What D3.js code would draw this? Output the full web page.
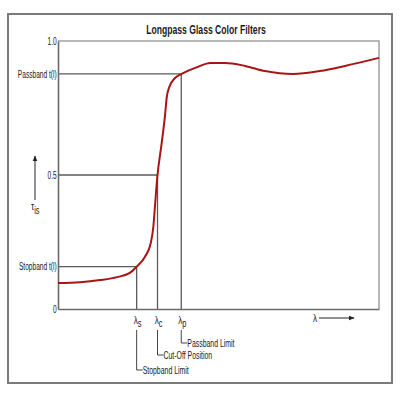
<!DOCTYPE html>
<html><head><meta charset="utf-8">
<script src="https://cdn.jsdelivr.net/npm/d3@7"></script>
<style>body{margin:0;background:#fff}svg{display:block}</style>
</head><body>
<svg id="c" width="400" height="400"></svg>
<script>
const wavelength = [0, 6.9, 13.1, 18.4, 22.4, 24.5, 27.1, 28.9, 29.7, 30.2, 30.9, 32.3, 33.3, 33.9, 34.7, 36.4, 38.5, 43.7, 47.4, 52, 58.3, 64.5, 73.2, 81.6, 89.4, 100];
const transmission = [0.097, 0.10, 0.108, 0.119, 0.135, 0.158, 0.195, 0.246, 0.307, 0.382, 0.488, 0.619, 0.718, 0.792, 0.829, 0.861, 0.877, 0.904, 0.918, 0.918, 0.907, 0.888, 0.877, 0.888, 0.907, 0.937];
const yTickValues = [0, 0.158, 0.5, 0.877, 1.0];
const yTickLabels = ["0", "Stopband t(l)", "0.5", "Passband t(l)", "1.0"];
const refLevels = [0.158, 0.5, 0.877];
const markerSubs = ["s", "c", "p"];
const markerPositions = [24.5, 31.0, 38.4];
const markerDescriptions = ["Stopband Limit", "Cut-Off Position", "Passband Limit"];
const title = "Longpass Glass Color Filters";

const svg = d3.select("#c");
const font = "'Liberation Sans',Arial,sans-serif";
const SX = 0.66; // condensed look
const L = 58, R = 379, T = 41, B = 309;
const x = d3.scaleLinear().domain([0, 100]).range([L, R]);
const y = d3.scaleLinear().domain([0, 1]).range([B, T]);

function ctext(px, py, anchor, size, weight, sx) {
  const g = svg.append("g").attr("transform", `translate(${px},${py}) scale(${sx || SX},1)`);
  return g.append("text").attr("text-anchor", anchor).attr("font-family", font)
    .attr("font-size", size).attr("font-weight", weight || "normal").attr("fill", "#1a1a1a");
}

// outer frame
svg.append("rect").attr("x", 8).attr("y", 14).attr("width", 384).attr("height", 369)
  .attr("fill", "none").attr("stroke", "#7a7a7a").attr("stroke-width", 2);

ctext(206, 34, "middle", 12.5, "bold", 0.69).text(title);

// plot top/right border
svg.append("path").attr("d", `M${L},${T}H${R}V${B}`).attr("fill", "none")
  .attr("stroke", "#a0a0a0").attr("stroke-width", 1.5);

const data = wavelength.map((w, i) => ({ w, t: transmission[i] }));
refLevels.forEach((lv, i) => {
  const xv = markerPositions[i];
  svg.append("line").attr("x1", L).attr("x2", x(xv)).attr("y1", y(lv)).attr("y2", y(lv))
    .attr("stroke", "#5a5a5a").attr("stroke-width", 1.3);
  svg.append("line").attr("x1", x(xv)).attr("x2", x(xv)).attr("y1", y(lv)).attr("y2", B)
    .attr("stroke", "#5a5a5a").attr("stroke-width", 1.3);
});

// axes
const yAxis = d3.axisLeft(y).tickValues(yTickValues).tickSize(0).tickPadding(2)
  .tickFormat((d, i) => yTickLabels[i]);
const gy = svg.append("g").attr("transform", `translate(${L},0)`).call(yAxis);
gy.select(".domain").attr("stroke", "#6a6a6a").attr("stroke-width", 1.6);
gy.selectAll("text").attr("font-family", font).attr("font-size", 10).attr("fill", "#1a1a1a")
  .attr("transform", `scale(${SX},1)`);

const xAxis = d3.axisBottom(x).tickValues([]).tickSize(0);
const gx = svg.append("g").attr("transform", `translate(0,${B})`).call(xAxis);
gx.select(".domain").attr("stroke", "#6a6a6a").attr("stroke-width", 1.6);

// curve
svg.append("path").datum(data)
  .attr("d", d3.line().x(d => x(d.w)).y(d => y(d.t)).curve(d3.curveMonotoneX))
  .attr("fill", "none").attr("stroke", "#a81515").attr("stroke-width", 2);

// markers & callouts
const calloutY = [370, 355, 343];
markerPositions.forEach((p, i) => {
  const px = x(p);
  const t = ctext(px + 1, 324, "middle", 11, "normal", 0.74);
  t.append("tspan").text("λ");
  t.append("tspan").attr("dy", 3).attr("font-size", 10).text(markerSubs[i]);
  svg.append("path").attr("d", `M${px},${330}V${calloutY[i]}H${px + 6}`)
    .attr("fill", "none").attr("stroke", "#444").attr("stroke-width", 1);
  ctext(px + 6, calloutY[i] + 3.5, "start", 10.5).text(markerDescriptions[i]);
});

// arrows
const defs = svg.append("defs");
defs.append("marker").attr("id", "ah").attr("viewBox", "0 0 10 10").attr("refX", 9).attr("refY", 5)
  .attr("markerWidth", 6).attr("markerHeight", 6).attr("orient", "auto")
  .append("path").attr("d", "M0,1L10,5L0,9Z").attr("fill", "#222");
svg.append("line").attr("x1", 35).attr("x2", 35).attr("y1", 200).attr("y2", 156)
  .attr("stroke", "#222").attr("stroke-width", 1).attr("marker-end", "url(#ah)");
const tau = ctext(31, 210, "start", 11, "normal", 0.74);
tau.append("tspan").text("τ");
tau.append("tspan").attr("dy", 4).attr("font-size", 10).text("is");

ctext(313, 322, "start", 11, "normal", 0.74).text("λ");
svg.append("line").attr("x1", 319).attr("x2", 354).attr("y1", 318).attr("y2", 318)
  .attr("stroke", "#222").attr("stroke-width", 1).attr("marker-end", "url(#ah)");
</script>
</body></html>
